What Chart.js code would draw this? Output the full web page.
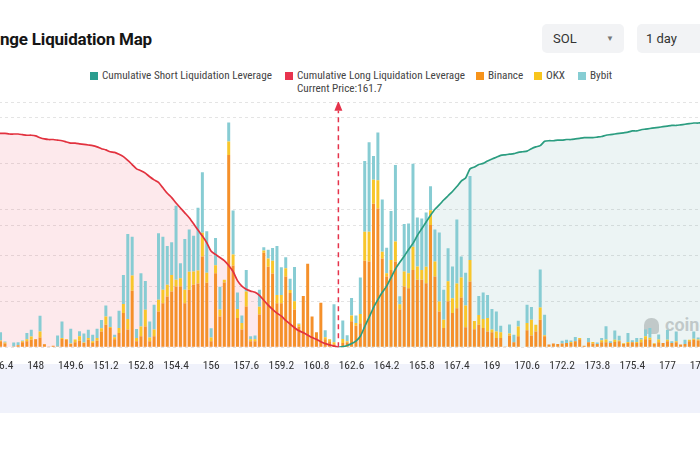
<!DOCTYPE html>
<html><head><meta charset="utf-8">
<script src="https://cdn.jsdelivr.net/npm/chart.js@4.4.1/dist/chart.umd.min.js"></script>
<style>
html,body{margin:0;padding:0;width:700px;height:450px;overflow:hidden;background:#fff;position:relative;}
body{font-family:"Liberation Sans Narrow","Roboto Condensed",Roboto,sans-serif;}
#title{position:absolute;left:0;top:28px;font-family:Roboto,"Noto Sans",sans-serif;font-weight:700;font-size:17px;letter-spacing:-0.2px;color:#151515;white-space:nowrap;line-height:22px;}
.dd{position:absolute;top:24px;height:29px;background:#f2f3f5;border-radius:5px;font-family:Roboto,"Noto Sans",sans-serif;font-size:13px;color:#333;line-height:29px;box-sizing:border-box;}
.sq{position:absolute;top:72px;width:8px;height:8px;}
.lt{position:absolute;top:70px;font-size:11.2px;line-height:12px;color:#444;white-space:nowrap;}
#band{position:absolute;left:0;top:364px;width:700px;height:49px;background:#f0f2fb;}
#wm{position:absolute;left:665px;top:314px;font-family:Roboto,sans-serif;font-weight:700;font-size:18px;color:rgba(160,160,160,0.5);white-space:nowrap;}
#logo{position:absolute;left:644px;top:318px;width:15px;height:16px;border-radius:7px 7px 4px 4px;background:rgba(150,150,150,0.45);}
#wrap{position:absolute;left:-19px;top:100px;width:742px;height:270px;}
</style></head>
<body>
<div id="title">nge Liquidation Map</div>
<div class="dd" style="left:542px;width:82px;padding-left:11px;">SOL<span style="position:absolute;left:64px;top:0;font-size:8px;color:#777;">&#9660;</span></div>
<div class="dd" style="left:637px;width:80px;padding-left:9px;">1 day</div>

<div class="sq" style="left:90px;background:#2a9d8f"></div><div class="lt" style="left:102px">Cumulative Short Liquidation Leverage</div>
<div class="sq" style="left:285px;background:#e8344e"></div><div class="lt" style="left:297px">Cumulative Long Liquidation Leverage</div>
<div class="sq" style="left:476px;background:#f7931a"></div><div class="lt" style="left:488px">Binance</div>
<div class="sq" style="left:534px;background:#f8c51c"></div><div class="lt" style="left:546px">OKX</div>
<div class="sq" style="left:578px;background:#86cdd3"></div><div class="lt" style="left:590px">Bybit</div>
<div class="lt" style="left:297px;top:83px">Current Price:161.7</div>

<div id="logo"></div>
<div id="wm">coinglass</div>
<div id="band"></div>
<div id="wrap"><canvas id="c"></canvas></div>

<script>
const priceLabels = [
"145.6","145.8","146","146.2","146.4","146.6","146.8","147","147.2","147.4",
"147.6","147.8","148","148.2","148.4","148.6","148.8","149","149.2","149.4",
"149.6","149.8","150","150.2","150.4","150.6","150.8","151","151.2","151.4",
"151.6","151.8","152","152.2","152.4","152.6","152.8","153","153.2","153.4",
"153.6","153.8","154","154.2","154.4","154.6","154.8","155","155.2","155.4",
"155.6","155.8","156","156.2","156.4","156.6","156.8","157","157.2","157.4",
"157.6","157.8","158","158.2","158.4","158.6","158.8","159","159.2","159.4",
"159.6","159.8","160","160.2","160.4","160.6","160.8","161","161.2","161.4",
"161.6","161.7","162.2","162.4","162.6","162.8","163","163.2","163.4","163.6",
"163.8","164","164.2","164.4","164.6","164.8","165","165.2","165.4","165.6",
"165.8","166","166.2","166.4","166.6","166.8","167","167.2","167.4","167.6",
"167.8","168","168.2","168.4","168.6","168.8","169","169.2","169.4","169.6",
"169.8","170","170.2","170.4","170.6","170.8","171","171.2","171.4","171.6",
"171.8","172","172.2","172.4","172.6","172.8","173","173.2","173.4","173.6",
"173.8","174","174.2","174.4","174.6","174.8","175","175.2","175.4","175.6",
"175.8","176","176.2","176.4","176.6","176.8","177","177.2","177.4","177.6",
"177.8","178","178.2","178.4","178.6","178.8","179","179.2","179.4"];
const currentPrice = "161.7";

// Liquidation leverage per price level (M USD)
const binance = [
0.15,0.10,0.20,0.12,0.26,0.17,0.02,0.04,0.09,0.22,
0.26,0.33,0.35,0.43,0.13,0.04,0.07,0.03,0.36,0.33,
0.14,0.22,0.29,0.19,0.33,0.19,0.29,0.69,0.98,0.84,
0.35,0.62,1.49,0.77,2.46,0.26,0.48,0.91,0.26,0.48,
1.56,1.92,2.21,2.43,2.65,2.65,1.92,2.50,2.72,2.78,
3.95,2.81,0.26,3.22,1.34,2.82,8.37,3.56,1.27,0.77,
1.78,0.26,0.26,1.43,4.12,3.51,3.21,1.92,1.92,3.08,
2.36,1.64,0.91,2.23,3.64,1.34,0.65,1.94,0.35,0.26,
0.13,0,0.19,0.22,1.13,0.94,1.05,3.77,3.73,6.25,
6.04,3.87,3.08,3.37,3.73,1.65,2.65,2.57,3.37,2.94,
2.94,2.79,5.32,3.08,1.56,0.84,2.00,1.49,1.70,2.17,
0.87,2.86,0.79,0.98,0.84,0.69,0.65,0.40,0.40,0.04,
0.51,0.22,0.48,0.02,0.74,0.51,0.69,1.20,0.48,0.12,
0.16,0.14,0.17,0.19,0.19,0.26,0.35,0.07,0.22,0.17,
0.14,0.22,0.22,0.19,0.23,0.26,0.14,0.19,0.22,0.19,
0.22,0.35,0.33,0.14,0.22,0.19,0.26,0.19,0.22,0.12,
0.14,0.26,0.33,0.30,0.20,0.15,0.25,0.12,0.18];
const okx = [
0.02,0,0.03,0.02,0.04,0.04,0,0,0,0.04,
0.09,0.14,0.01,0.26,0.01,0,0,0,0.04,0.03,
0.02,0.12,0.19,0.02,0.07,0.07,0.12,0.14,0.36,0.04,
0.09,0.22,0.39,0.46,0.66,0.14,0.43,0.72,0.17,0.29,
0.51,0.58,0.51,0.72,0.29,0.36,0.58,0.79,0.58,0.56,
1.04,0.43,0.17,0.35,0.30,0.12,0.59,0.48,0.40,0.29,
0.65,0.09,0.09,0.33,0.09,0.36,0.56,0.36,0.36,0.36,
0.13,0.36,0.09,0,0,0,0,0,0.09,0.09,
0.09,0,0.17,0.04,0.25,0.12,0.40,1.26,1.30,1.04,
1.23,0.29,0.14,0.43,0.87,0.22,0.65,0.65,1.01,0.58,
0.43,0.72,0.65,0.65,0.43,0.36,0.87,0.65,1.08,0.87,
0.95,0.94,0.36,0.43,0.39,0.58,0.12,0.29,0.25,0,
0.09,0,0.43,0,0.32,0.69,0.29,0.53,0.04,0,
0,0,0,0,0.04,0,0.06,0,0,0.06,
0,0.09,0.12,0,0.10,0.04,0.04,0.04,0,0.04,
0.12,0.13,0.09,0.04,0.12,0,0.07,0,0.04,0,
0,0.07,0.04,0.04,0.03,0.02,0.04,0,0.03];
const bybit = [
0.20,0.10,0.30,0.15,0.35,0.04,0,0.17,0.13,0.04,
0.27,0.29,0,0.68,0,0,0,0.48,0.72,0,
0.65,0,0.22,0.39,0.36,0.29,0.40,0.36,0.48,0.46,
0.11,0.75,1.27,3.70,1.69,0.40,2.31,1.26,0.69,1.08,
2.89,2.31,1.69,1.42,3.22,0.65,2.21,1.84,1.55,2.73,
2.63,1.81,0.40,1.19,1.00,0,0.82,1.91,0.71,0.32,
0.94,0.13,0.16,0.75,0.14,0.38,0.55,2.13,1.20,0.48,
0.49,1.49,0.04,0,0,0,0,0,0.30,0,
1.65,0,0.81,0.26,0.77,0.32,1.59,3.08,3.90,1.04,
2.08,2.27,1.11,2.13,3.33,0.35,2.07,2.17,3.61,2.13,
2.24,2.36,1.04,1.40,3.01,1.30,1.44,1.38,2.78,0.91,
1.43,3.66,0,0.82,1.16,1.01,0.90,0.87,0.29,0,
0.39,0.33,0.25,0,0.79,0.55,0,1.66,0.90,0,
0,0,0.11,0.14,0.07,0.19,0,0,0.19,0,
0.07,0.10,0.58,0.07,0.40,0.20,0,0.39,0.09,0.17,
0.07,0.29,0.42,0,0.22,0,0.43,0.07,0.43,0,
0.19,0,0.32,0.09,0.10,0.15,0.08,0.12,0.05];

// Cumulative long liquidation leverage (145.6 .. 161.7)
const longCumValues = [
352,351,351,350,350,350,349,349,349,348,
347,347,346,343,341,340,340,339,338,336,
334,334,333,332,331,330,328,325,323,320,
319,316,312,306,299,292,289,285,279,274,
270,261,252,245,236,228,220,212,202,192,
182,171,157,152,147,142,134,124,109,100,
95,92,90,85,77,69,62,56,51,44,
38,32,27,24,20,16,13,9,6,4,
2,0];
// Cumulative short liquidation leverage (161.7 .. 179.4)
const shortCumValues = [
0,1,3,6,10,18,34,49,65,78,
90,100,114,128,139,149,160,170,183,194,
205,216,226,233,241,248,255,263,272,277,
292,295,299,301,305,308,311,314,315,316,
317,319,320,321,325,328,330,337,338,338,
339,339,340,340,341,342,343,343,343,344,
345,347,348,349,350,351,352,354,354,356,
357,358,359,360,361,362,363,363,364,365,
366,367,367,368,369,369,370,371];

const curIdx = priceLabels.indexOf(currentPrice);
const longCum = longCumValues.concat(new Array(priceLabels.length - longCumValues.length).fill(null));
const shortCum = new Array(priceLabels.length - shortCumValues.length).fill(null).concat(shortCumValues);

const tickFont = {family:'"Liberation Sans Narrow","Roboto Condensed",Roboto,sans-serif', size:11.5};

const currentLine = {
  id:'currentLine',
  afterDatasetsDraw(chart){
    const c = chart.ctx, x = chart.scales.x.getPixelForValue(curIdx);
    const yb = chart.scales.yC.getPixelForValue(0), top = chart.chartArea.top;
    c.save();
    c.strokeStyle = '#e5334b'; c.lineWidth = 1.5; c.setLineDash([5,4]);
    c.beginPath(); c.moveTo(x, yb); c.lineTo(x, top + 8); c.stroke();
    c.setLineDash([]); c.fillStyle = '#e5334b';
    c.beginPath(); c.moveTo(x, top - 2); c.lineTo(x - 4, top + 8); c.lineTo(x + 4, top + 8); c.closePath(); c.fill();
    c.restore();
  }
};

const barCommon = {yAxisID:'yB', stack:'ex', order:1, barPercentage:0.68, categoryPercentage:1};
const chart = new Chart(document.getElementById('c'), {
  type:'bar',
  data:{labels:priceLabels, datasets:[
    {type:'line', label:'Cumulative Short Liquidation Leverage', data:shortCum, yAxisID:'yC', order:0,
     borderColor:'#2b9d80', borderWidth:1.7, backgroundColor:'rgba(70,150,150,0.10)', fill:'origin', pointRadius:0, tension:0.2},
    {type:'line', label:'Cumulative Long Liquidation Leverage', data:longCum, yAxisID:'yC', order:0,
     borderColor:'#e2323f', borderWidth:1.7, backgroundColor:'rgba(240,70,100,0.12)', fill:'origin', pointRadius:0, tension:0.2},
    Object.assign({label:'Binance', data:binance, backgroundColor:'#f5902a'}, barCommon),
    Object.assign({label:'OKX', data:okx, backgroundColor:'#f8c62b'}, barCommon),
    Object.assign({label:'Bybit', data:bybit, backgroundColor:'#87ccd3'}, barCommon)
  ]},
  options:{
    responsive:true, maintainAspectRatio:false, animation:false,
    layout:{padding:0},
    plugins:{legend:{display:false}, tooltip:{enabled:false}, filler:{drawTime:'beforeDatasetsDraw'}},
    scales:{
      x:{stacked:true, grid:{display:false}, border:{display:false},
         ticks:{autoSkip:false, maxRotation:0, minRotation:0, padding:4, color:'#333', font:tickFont,
                callback:(v,i)=> (i % 8 === 4 ? priceLabels[i] : '')}},
      yB:{type:'linear', position:'left', stacked:true, min:0, max:10.64,
          afterBuildTicks:(s)=>{ s.ticks = [0,2,4,6,8,10].map(v=>({value:v})); },
          ticks:{display:false}, grid:{color:'#e4e4e4', drawTicks:false}, border:{display:false, dash:[3,3]}},
      yC:{type:'linear', position:'left', min:0, max:400,
          ticks:{display:false, stepSize:100}, grid:{color:'#e4e4e4', drawTicks:false}, border:{display:false, dash:[3,3]}}
    }
  },
  plugins:[currentLine]
});

// place plot area: left -18.9, right 722.6, top 102.7, bottom 348
(function place(){
  const wrap = document.getElementById('wrap');
  let w = 742, h = 270;
  let ca = chart.chartArea;
  w = w + (741.5 - (ca.right - ca.left));
  h = h + (245.3 - (ca.bottom - ca.top));
  wrap.style.width = w + 'px'; wrap.style.height = h + 'px';
  chart.resize(w, h);
  ca = chart.chartArea;
  wrap.style.left = (-18.9 - ca.left) + 'px';
  wrap.style.top = (102.7 - ca.top) + 'px';
})();
</script>
</body></html>
